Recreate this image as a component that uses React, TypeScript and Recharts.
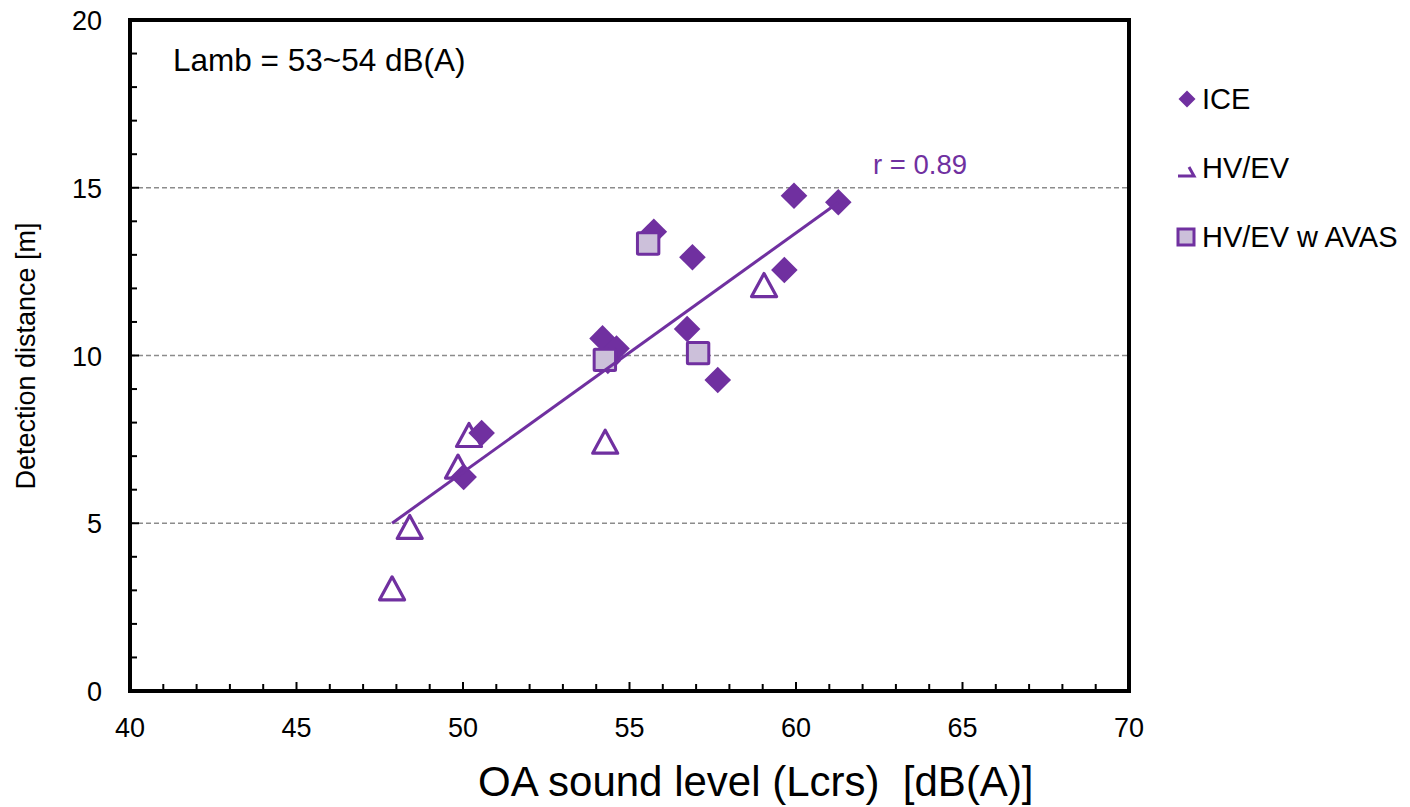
import React from 'react';
import {
  ScatterChart,
  Scatter,
  XAxis,
  YAxis,
  ReferenceLine,
  ReferenceArea,
  Customized,
} from 'recharts';

// ---- Data ----
const iceX = [50.02, 50.56, 54.19, 54.61, 54.35, 55.73, 56.89, 56.73, 57.65, 59.65, 59.94, 61.27];
const iceY = [6.38, 7.69, 10.51, 10.21, 9.84, 13.69, 12.93, 10.79, 9.27, 12.55, 14.76, 14.57];

const hvX = [47.87, 48.4, 49.85, 50.18, 54.27, 59.04];
const hvY = [3.06, 4.89, 6.69, 7.63, 7.43, 12.1];

const avasX = [55.56, 54.26, 57.06];
const avasY = [13.34, 9.87, 10.07];

const trendX = [47.87, 61.27];
const trendY = [5.0, 14.56];

const xTicks = Array.from({ length: 31 }, (_, i) => 40 + i);
const yTicks = Array.from({ length: 21 }, (_, i) => i);
const gridValues = [5, 10, 15];

const seriesNames = ['ICE', 'HV/EV', 'HV/EV w AVAS'];
const annotation = 'Lamb = 53~54 dB(A)';
const rLabel = 'r = 0.89';
const xLabel = 'OA sound level (Lcrs)  [dB(A)]';
const yLabel = 'Detection distance [m]';

const zip = (xs: number[], ys: number[]) => xs.map((x, i) => ({ x, y: ys[i] }));
const iceData = zip(iceX, iceY);
const hvData = zip(hvX, hvY);
const avasData = zip(avasX, avasY);
const trendData = zip(trendX, trendY);

const PURPLE = '#7030A0';
const LAV = '#CCC0DA';
const FONT = '"Liberation Sans", Arial, Helvetica, sans-serif';

const Diamond = (props: any) => {
  const { cx, cy } = props;
  const h = 13.3;
  return <path d={`M${cx},${cy - h}L${cx + h},${cy}L${cx},${cy + h}L${cx - h},${cy}Z`} fill={PURPLE} />;
};

const Triangle = (props: any) => {
  const { cx, cy } = props;
  return (
    <path
      d={`M${cx},${cy - 11.5}L${cx + 12.5},${cy + 11.5}L${cx - 12.5},${cy + 11.5}Z`}
      fill="#fff"
      stroke={PURPLE}
      strokeWidth={3.2}
      strokeLinejoin="round"
    />
  );
};

const Square = (props: any) => {
  const { cx, cy } = props;
  const h = 10.7;
  return (
    <rect x={cx - h} y={cy - h} width={2 * h} height={2 * h} fill={LAV} stroke={PURPLE} strokeWidth={3} rx={1} />
  );
};

const NoShape = () => <g />;

const XTick = (props: any) => {
  const { x, y, payload } = props;
  const v = payload.value;
  const major = v % 5 === 0;
  return (
    <g>
      {v !== 40 && v !== 70 && (
        <line x1={x} x2={x} y1={y} y2={y - (major ? 9 : 7)} stroke="#000" strokeWidth={2} />
      )}
      {major && (
        <text x={x} y={y + 46} textAnchor="middle" fontSize={27} fontFamily={FONT} fill="#000">
          {v}
        </text>
      )}
    </g>
  );
};

const YTick = (props: any) => {
  const { x, y, payload } = props;
  const v = payload.value;
  const major = v % 5 === 0;
  return (
    <g>
      {v !== 0 && v !== 20 && (
        <line x1={x} x2={x + (major ? 9 : 7)} y1={y} y2={y} stroke="#000" strokeWidth={2} />
      )}
      {major && (
        <text x={x - 28} y={y + 10} textAnchor="end" fontSize={27} fontFamily={FONT} fill="#000">
          {v}
        </text>
      )}
    </g>
  );
};

const Texts = () => (
  <g>
    <text x={173} y={71} fontSize={31.5} fontFamily={FONT} fill="#000">
      {annotation}
    </text>
    <text x={873} y={174} fontSize={27.5} fontFamily={FONT} fill={PURPLE}>
      {rLabel}
    </text>
    <text x={478} y={796} fontSize={42} fontFamily={FONT} fill="#000" style={{ whiteSpace: 'pre' }}>
      {xLabel}
    </text>
    <text
      x={35}
      y={356}
      fontSize={27}
      fontFamily={FONT}
      fill="#000"
      textAnchor="middle"
      transform="rotate(-90 35 356)"
    >
      {yLabel}
    </text>
    {/* legend */}
    <path d="M1187,90.5L1195.5,99L1187,107.5L1178.5,99Z" fill={PURPLE} />
    <text x={1202} y={109} fontSize={29} fontFamily={FONT} fill="#000">
      {seriesNames[0]}
    </text>
    <path d="M1178,176L1194,176L1189,167" fill="none" stroke={PURPLE} strokeWidth={3} />
    <text x={1202} y={178} fontSize={29} fontFamily={FONT} fill="#000">
      {seriesNames[1]}
    </text>
    <rect x={1178} y={229} width={16} height={16} fill={LAV} stroke={PURPLE} strokeWidth={3} />
    <text x={1202} y={247} fontSize={29} fontFamily={FONT} fill="#000">
      {seriesNames[2]}
    </text>
  </g>
);

export default function App() {
  return (
    <div style={{ position: 'absolute', left: 0, top: 0, width: 1410, height: 807, background: '#fff' }}>
      <ScatterChart width={1410} height={807} margin={{ top: 20, right: 281, bottom: 0, left: 0 }}>
        <XAxis
          type="number"
          dataKey="x"
          domain={[40, 70]}
          ticks={xTicks}
          interval={0}
          height={116}
          tickSize={0}
          tickMargin={0}
          tickLine={false}
          axisLine={{ stroke: '#000', strokeWidth: 4 }}
          tick={<XTick />}
          allowDataOverflow
        />
        <YAxis
          type="number"
          dataKey="y"
          domain={[0, 20]}
          ticks={yTicks}
          interval={0}
          width={130}
          tickSize={0}
          tickMargin={0}
          tickLine={false}
          axisLine={{ stroke: '#000', strokeWidth: 4 }}
          tick={<YTick />}
          allowDataOverflow
        />
        {gridValues.map((v) => (
          <ReferenceLine key={v} y={v} stroke="#8c8c8c" strokeWidth={1.5} strokeDasharray="5 3" />
        ))}
        <ReferenceArea x1={40} x2={70} y1={0} y2={20} fill="none" stroke="#000" strokeWidth={4} fillOpacity={0} />
        <Scatter name={seriesNames[1]} data={hvData} shape={<Triangle />} isAnimationActive={false} />
        <Scatter name={seriesNames[0]} data={iceData} shape={<Diamond />} isAnimationActive={false} />
        <Scatter name={seriesNames[2]} data={avasData} shape={<Square />} isAnimationActive={false} />
        <Scatter
          name="trend"
          data={trendData}
          line={{ stroke: PURPLE, strokeWidth: 3 }}
          shape={<NoShape />}
          legendType="none"
          isAnimationActive={false}
        />
        <Customized component={<Texts />} />
      </ScatterChart>
    </div>
  );
}
